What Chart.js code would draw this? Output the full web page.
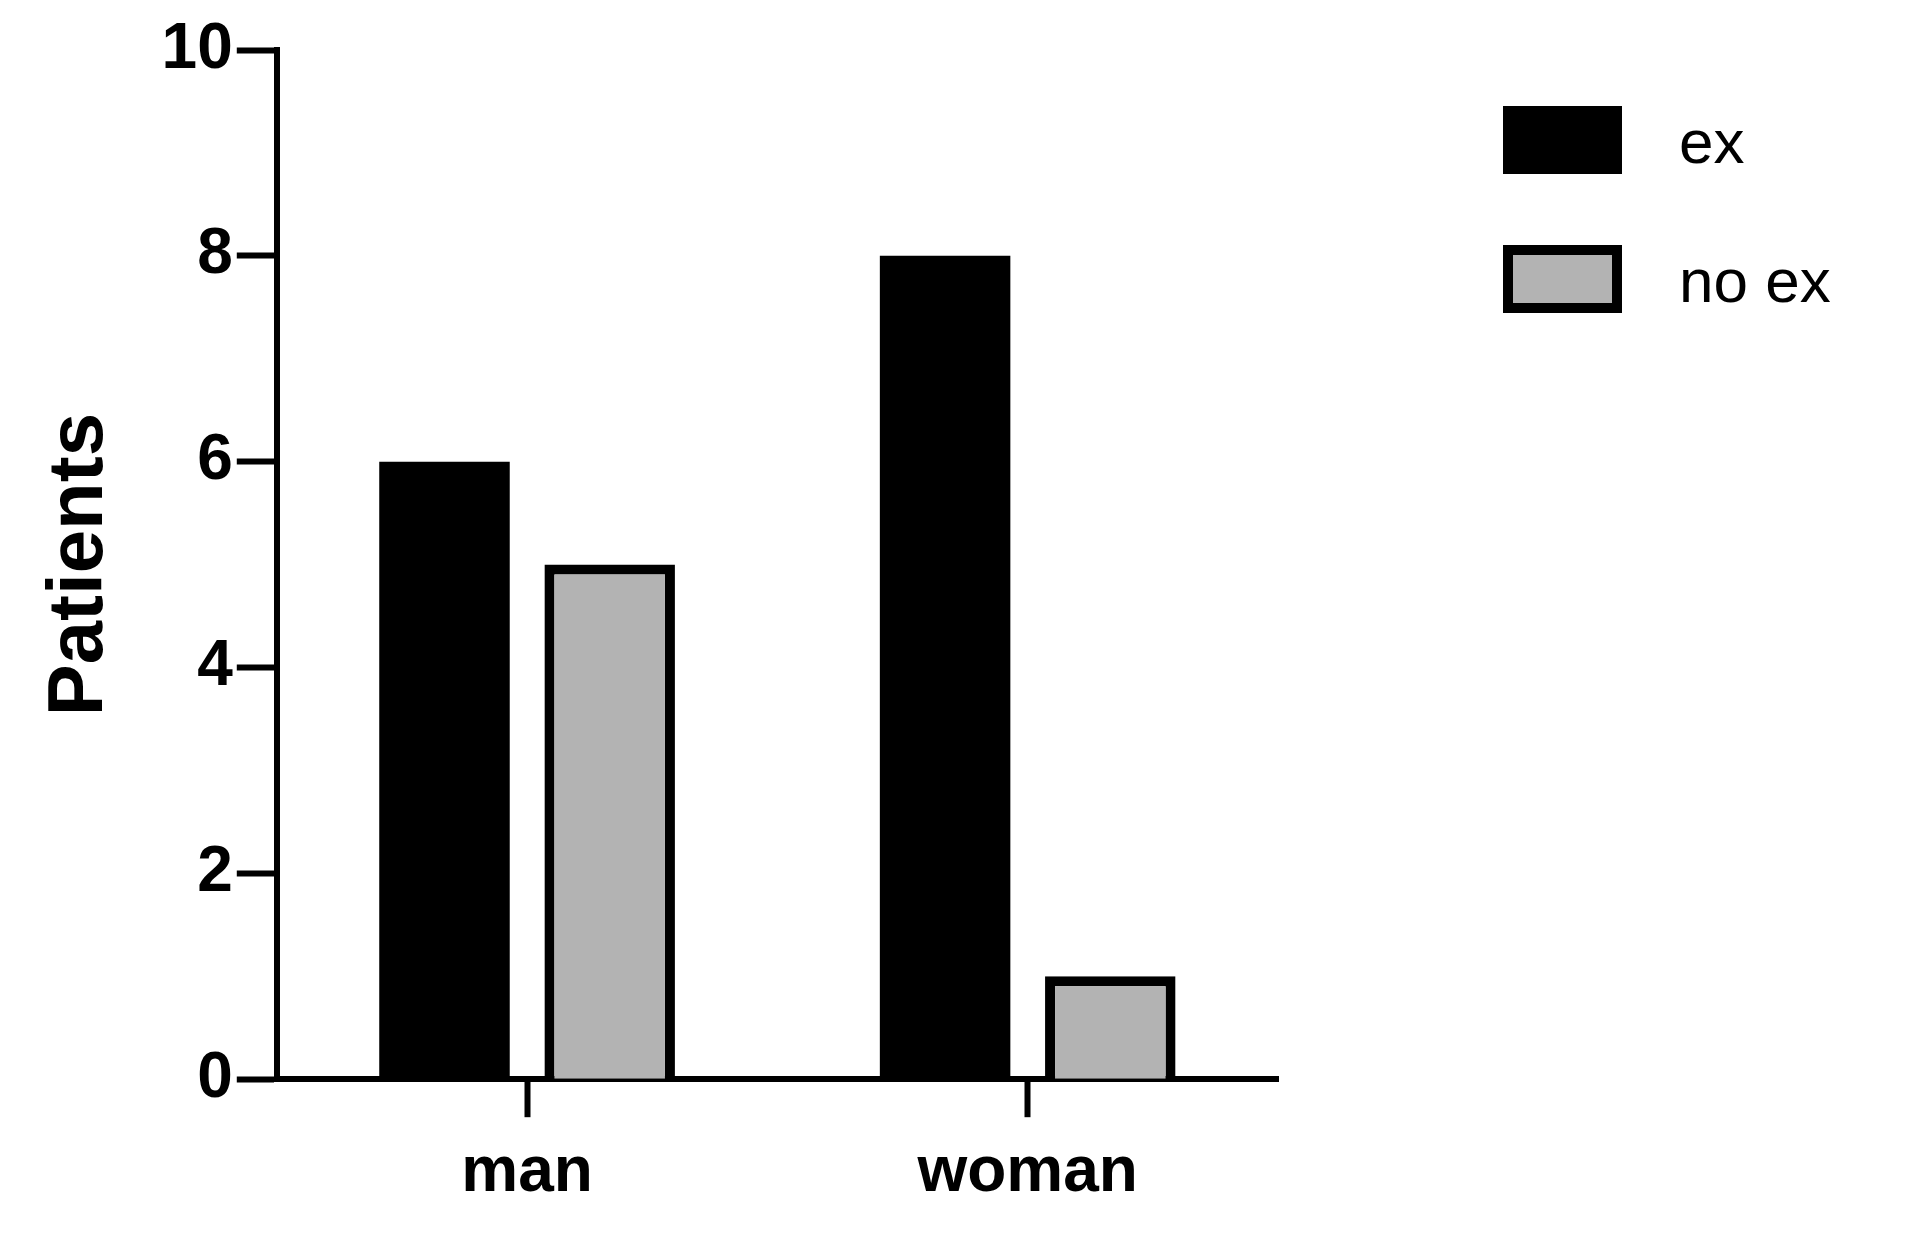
<!DOCTYPE html>
<html><head><meta charset="utf-8">
<script src="https://cdn.jsdelivr.net/npm/chart.js@4/dist/chart.umd.min.js"></script>
<style>
html,body{margin:0;padding:0;background:#fff;}
#wrap{position:relative;width:1908px;height:1250px;}
.lg{position:absolute;left:1503px;width:119px;height:68px;box-sizing:border-box;}
.lt{position:absolute;left:1679px;font:62px "Liberation Sans",Arial,sans-serif;color:#000;line-height:68px;}
</style></head><body>
<div id="wrap"><canvas id="c" width="1908" height="1250"></canvas>
<div class="lg" style="top:106px;background:#000"></div><div class="lt" style="top:108px">ex</div>
<div class="lg" style="top:245px;background:#b3b3b3;border:10px solid #000"></div><div class="lt" style="top:247px">no ex</div>
</div>
<script>
const categories=['man','woman'];
const exValues=[6,8];
const noExValues=[5,1];
const seriesNames=['ex','no ex'];
const font={family:'"Liberation Sans", Arial, sans-serif',weight:'bold',size:64};
new Chart(document.getElementById('c'),{
 type:'bar',
 data:{labels:categories,datasets:[
  {label:seriesNames[0],data:exValues,backgroundColor:'#000',borderWidth:0,categoryPercentage:0.66,barPercentage:0.79},
  {label:seriesNames[1],data:noExValues,backgroundColor:'#b3b3b3',borderColor:'#000',borderWidth:10,borderSkipped:'bottom',categoryPercentage:0.66,barPercentage:0.79}
 ]},
 options:{responsive:false,animation:false,devicePixelRatio:1,
  layout:{padding:{top:50,right:630,left:30,bottom:20}},
  plugins:{legend:{display:false},tooltip:{enabled:false}},
  scales:{
   y:{min:0,max:10,ticks:{stepSize:2,color:'#000',font,padding:4},
      grid:{drawOnChartArea:false,tickLength:40,tickWidth:6,tickColor:'#000'},
      border:{width:6,color:'#000'},
      title:{display:true,text:'Patients',color:'#000',font:{family:font.family,weight:'bold',size:78},padding:{bottom:30}}},
   x:{ticks:{color:'#000',font,padding:18},
      grid:{offset:false,drawOnChartArea:false,tickLength:38,tickWidth:6,tickColor:'#000'},
      border:{width:6,color:'#000'}}
  }}
});
</script></body></html>
